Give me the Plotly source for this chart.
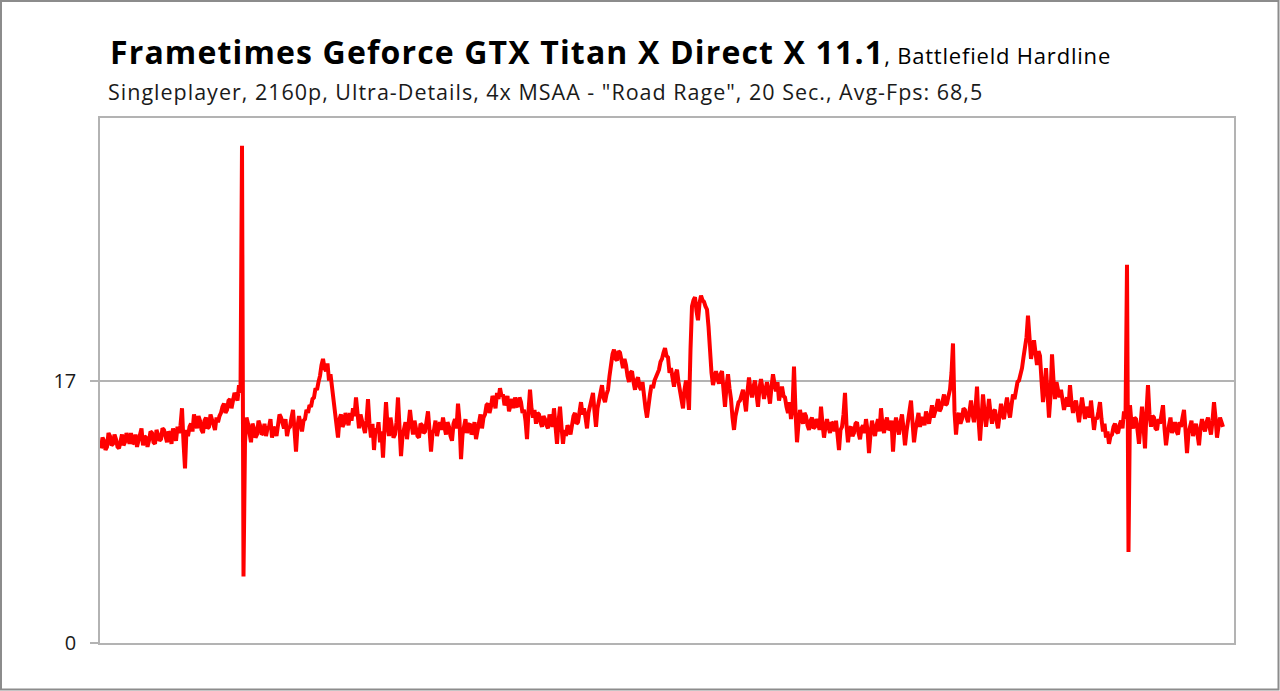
import plotly.graph_objects as go

# Frametimes (ms), in chronological order
frametimes = [
    12.6, 13.3, 13.1, 12.5, 12.7, 13.6, 13.4, 12.8, 12.9, 13.5, 13.2, 12.7, 12.6, 13.2, 13.5, 12.8, 13.0, 13.6, 13.3, 12.9,
    13.6, 12.9, 13.0, 13.5, 12.7, 13.1, 13.4, 13.9, 12.8, 13.4, 13.3, 12.7, 13.1, 13.7, 13.6, 13.0, 12.9, 13.8, 13.5, 13.1,
    13.2, 13.9, 13.8, 13.2, 13.0, 13.7, 13.5, 12.9, 13.9, 13.4, 13.1, 14.0, 13.6, 14.1, 15.2, 13.0, 11.3, 13.8, 13.4, 14.0,
    14.2, 13.7, 14.8, 14.3, 13.9, 14.7, 14.4, 13.8, 13.6, 14.4, 14.6, 13.9, 14.0, 14.8, 14.5, 14.0, 13.8, 14.6, 14.3, 14.7,
    14.9, 15.3, 15.5, 14.9, 15.1, 15.7, 15.8, 15.2, 15.6, 16.2, 16.0, 15.7, 16.7, 16.2, 32.2, 4.3, 13.0, 14.6, 14.2, 13.5,
    13.0, 14.2, 13.9, 13.3, 13.5, 14.4, 14.1, 13.5, 13.6, 14.2, 13.4, 13.9, 14.0, 14.5, 13.3, 14.0, 13.8, 13.4, 14.3, 14.8,
    14.6, 14.1, 13.9, 14.5, 13.4, 13.9, 14.0, 14.6, 15.1, 13.8, 12.4, 14.0, 14.7, 14.2, 13.7, 14.4, 14.5, 15.1, 14.9, 15.4,
    15.3, 15.8, 15.9, 16.5, 16.4, 16.9, 17.3, 18.0, 18.4, 17.8, 17.6, 18.1, 17.0, 17.4, 16.5, 15.5, 14.6, 14.0, 13.3, 14.5,
    14.8, 14.0, 14.2, 14.9, 14.6, 14.1, 14.9, 14.4, 15.2, 14.7, 15.9, 14.5, 13.9, 14.8, 14.3, 13.8, 13.6, 14.4, 15.8, 14.2,
    13.3, 14.2, 12.5, 13.9, 13.6, 14.3, 13.0, 13.7, 12.0, 13.9, 15.6, 14.1, 13.4, 14.6, 14.0, 13.3, 13.5, 14.3, 15.9, 13.6,
    12.1, 13.4, 13.8, 14.3, 13.2, 14.0, 15.1, 14.2, 13.5, 14.4, 14.0, 13.4, 13.3, 14.2, 14.1, 13.6, 13.7, 14.5, 15.0, 13.8,
    12.4, 13.6, 13.8, 14.4, 13.4, 13.9, 14.3, 13.8, 14.6, 14.0, 13.5, 14.3, 14.0, 13.4, 13.1, 14.2, 14.5, 13.9, 15.5, 14.4,
    11.9, 13.5, 14.0, 14.5, 13.6, 14.1, 14.2, 13.5, 13.8, 14.3, 13.2, 13.8, 14.3, 14.8, 13.9, 14.6, 14.8, 15.4, 15.5, 14.9,
    15.3, 16.0, 15.7, 15.2, 16.2, 15.8, 16.5, 16.0, 16.1, 15.4, 15.6, 16.0, 15.0, 15.5, 15.8, 15.2, 15.9, 15.4, 15.3, 15.9,
    15.6, 14.9, 15.1, 14.4, 13.2, 15.0, 16.4, 15.2, 14.6, 15.1, 14.2, 14.9, 14.8, 14.3, 14.0, 14.7, 14.5, 14.1, 13.9, 14.8,
    14.5, 14.0, 15.2, 13.9, 12.9, 14.3, 15.3, 14.0, 12.9, 13.8, 13.4, 14.1, 13.9, 13.5, 14.2, 14.7, 14.9, 14.2, 14.3, 15.0,
    15.6, 14.8, 15.2, 14.6, 13.9, 14.9, 15.3, 15.8, 16.2, 15.0, 14.0, 15.2, 15.8, 16.3, 16.7, 15.9, 15.6, 16.1, 16.4, 17.3,
    18.2, 18.7, 19.0, 18.4, 18.3, 18.9, 18.8, 18.2, 17.8, 18.4, 18.0, 17.3, 16.9, 17.5, 17.6, 16.9, 16.4, 17.0, 17.2, 16.6,
    16.4, 16.9, 15.9, 15.2, 14.6, 15.6, 16.1, 16.7, 16.5, 17.0, 17.2, 17.5, 17.7, 18.2, 18.4, 18.8, 19.1, 18.6, 18.5, 17.5,
    17.8, 17.2, 16.6, 17.4, 17.7, 16.9, 16.3, 15.8, 15.2, 16.4, 17.0, 16.2, 15.1, 19.0, 21.8, 22.2, 22.4, 21.5, 20.9, 22.0,
    22.5, 22.2, 22.1, 21.8, 21.6, 20.5, 18.6, 17.5, 16.7, 17.3, 17.6, 17.1, 16.8, 17.4, 17.6, 16.4, 15.3, 16.6, 17.4, 16.5,
    15.8, 14.6, 13.8, 14.7, 15.1, 15.6, 15.7, 16.2, 16.4, 15.7, 15.0, 16.3, 17.2, 16.4, 15.9, 16.6, 17.0, 16.1, 15.3, 16.5,
    17.1, 16.5, 15.8, 16.4, 16.9, 16.2, 15.5, 16.6, 17.4, 16.8, 16.3, 16.9, 15.7, 16.2, 16.6, 16.0, 15.9, 15.3, 14.9, 15.6,
    14.5, 15.2, 17.9, 15.0, 13.0, 14.2, 15.1, 14.5, 14.2, 14.9, 14.7, 14.1, 13.8, 14.4, 14.6, 13.9, 14.0, 14.5, 14.3, 13.8,
    15.3, 14.2, 13.3, 14.0, 14.5, 14.0, 13.6, 14.3, 14.2, 13.7, 14.4, 13.5, 12.5, 13.8, 14.0, 14.8, 16.2, 14.1, 13.0, 13.9,
    14.0, 13.4, 13.6, 14.2, 14.3, 13.6, 13.2, 13.9, 14.1, 13.6, 14.5, 13.8, 12.3, 13.5, 14.4, 13.8, 13.4, 14.1, 14.5, 13.7,
    15.2, 14.1, 13.6, 14.3, 14.6, 13.8, 13.9, 14.4, 12.4, 13.9, 14.6, 14.0, 13.5, 14.3, 14.8, 13.9, 12.8, 13.7, 14.5, 14.9,
    15.7, 14.3, 13.0, 13.8, 14.4, 14.9, 14.0, 14.5, 14.6, 14.1, 15.0, 14.4, 14.2, 14.8, 15.4, 14.6, 14.9, 15.3, 15.8, 15.0,
    15.2, 15.7, 16.1, 15.4, 15.5, 16.0, 16.4, 17.5, 19.4, 15.0, 13.5, 14.6, 14.9, 14.2, 14.5, 15.2, 15.1, 14.6, 14.3, 15.0,
    15.7, 14.8, 14.3, 15.2, 16.6, 14.5, 13.1, 14.6, 16.1, 15.0, 14.0, 14.8, 15.8, 14.9, 14.2, 15.0, 15.1, 14.4, 13.9, 14.7,
    15.5, 14.8, 14.5, 15.3, 15.9, 15.1, 14.6, 15.4, 16.1, 15.8, 16.5, 16.9, 17.0, 17.3, 17.8, 18.5, 19.1, 19.8, 21.2, 19.5,
    18.4, 19.0, 19.6, 18.8, 18.0, 18.9, 18.6, 17.0, 15.6, 16.5, 17.8, 16.2, 14.6, 16.0, 18.7, 17.0, 15.8, 16.9, 16.5, 15.9,
    16.4, 15.8, 15.1, 15.6, 15.9, 15.3, 16.7, 15.6, 14.9, 15.4, 15.7, 15.0, 14.3, 15.1, 15.9, 15.2, 14.5, 15.3, 15.0, 14.6,
    15.7, 14.9, 13.8, 14.6, 14.5, 15.0, 15.6, 14.5, 13.7, 14.2, 13.3, 13.7, 12.9, 13.4, 13.5, 14.0, 14.2, 13.7, 13.6, 14.1,
    14.4, 13.9, 15.0, 14.5, 24.5, 5.9, 15.4, 14.2, 13.9, 14.6, 14.5, 13.8, 12.9, 14.1, 15.3, 14.0, 12.6, 15.0, 16.7, 14.8,
    14.0, 14.7, 14.6, 13.9, 13.8, 14.5, 14.2, 14.8, 15.4, 13.9, 12.8, 13.6, 14.1, 14.6, 13.6, 14.0, 14.3, 13.7, 13.5, 14.3,
    14.0, 14.6, 15.1, 13.8, 12.3, 13.6, 13.9, 14.4, 13.4, 13.9, 14.2, 13.5, 12.8, 13.9, 14.5, 14.0, 13.7, 14.3, 14.6, 14.0,
    13.5, 14.4, 15.6, 14.6, 13.3, 14.0, 14.6, 14.3, 14.0,
]
frames = list(range(len(frametimes)))

y_ticks = [0, 17]
y_tick_labels = ["0", "17"]
y_max = 34

title_main = "Frametimes Geforce GTX Titan X Direct X 11.1"
title_game = ", Battlefield Hardline"
subtitle = 'Singleplayer, 2160p, Ultra-Details, 4x MSAA - "Road Rage", 20 Sec., Avg-Fps: 68,5'

FONT = "Open Sans"
AXIS_GRAY = "#b3b3b3"

fig = go.Figure()
fig.add_trace(go.Scatter(
    x=frames, y=frametimes, mode="lines",
    line=dict(color="#ff0000", width=4),
    hoverinfo="skip", showlegend=False,
))

n = len(frametimes)
step_px = 1.5
fig.update_layout(
    width=1280, height=691,
    margin=dict(l=100, r=46, t=118, b=48),
    paper_bgcolor="white", plot_bgcolor="white",
    font=dict(family=FONT, color="#1a1a1a"),
    xaxis=dict(
        range=[-1.0 / step_px, (1234 - 101) / step_px], showticklabels=False, ticks="",
        showgrid=False, zeroline=False,
        showline=True, mirror=True, linecolor=AXIS_GRAY, linewidth=1.5,
    ),
    yaxis=dict(
        range=[0, y_max], tickvals=y_ticks, ticktext=y_tick_labels,
        showgrid=True, gridcolor=AXIS_GRAY, gridwidth=1.5, zeroline=False,
        showline=True, mirror=True, linecolor=AXIS_GRAY, linewidth=1.5,
        ticks="outside", ticklen=8, tickcolor=AXIS_GRAY, tickwidth=1.5,
        tickfont=dict(family=FONT, size=20, color="#1a1a1a"),
        ticklabelstandoff=10,
    ),
    annotations=[
        dict(
            xref="paper", yref="paper", x=(108 - 100) / 1134, y=(643 - 51) / 525,
            xanchor="left", yanchor="middle", showarrow=False,
            text=(f"<span style='letter-spacing:1.15px'><b>{title_main}</b></span>"
                  f"<span style='font-size:22px;letter-spacing:0.8px'>{title_game}</span>"),
            font=dict(family=FONT, size=32, color="#000000"),
        ),
        dict(
            xref="paper", yref="paper", x=(106 - 100) / 1134, y=(643 - 91) / 525,
            xanchor="left", yanchor="middle", showarrow=False,
            text=f"<span style='letter-spacing:1px'>{subtitle}</span>",
            font=dict(family=FONT, size=21.5, color="#1a1a1a"),
        ),
    ],
    shapes=[
        dict(
            type="rect", xref="paper", yref="paper",
            x0=(1 - 100) / 1134, x1=(1278.5 - 100) / 1134,
            y0=(643 - 689.5) / 525, y1=(643 - 1) / 525,
            line=dict(color="#8c8c8c", width=2), fillcolor="rgba(0,0,0,0)",
            layer="below",
        ),
    ],
)

fig.write_html("out.html")
